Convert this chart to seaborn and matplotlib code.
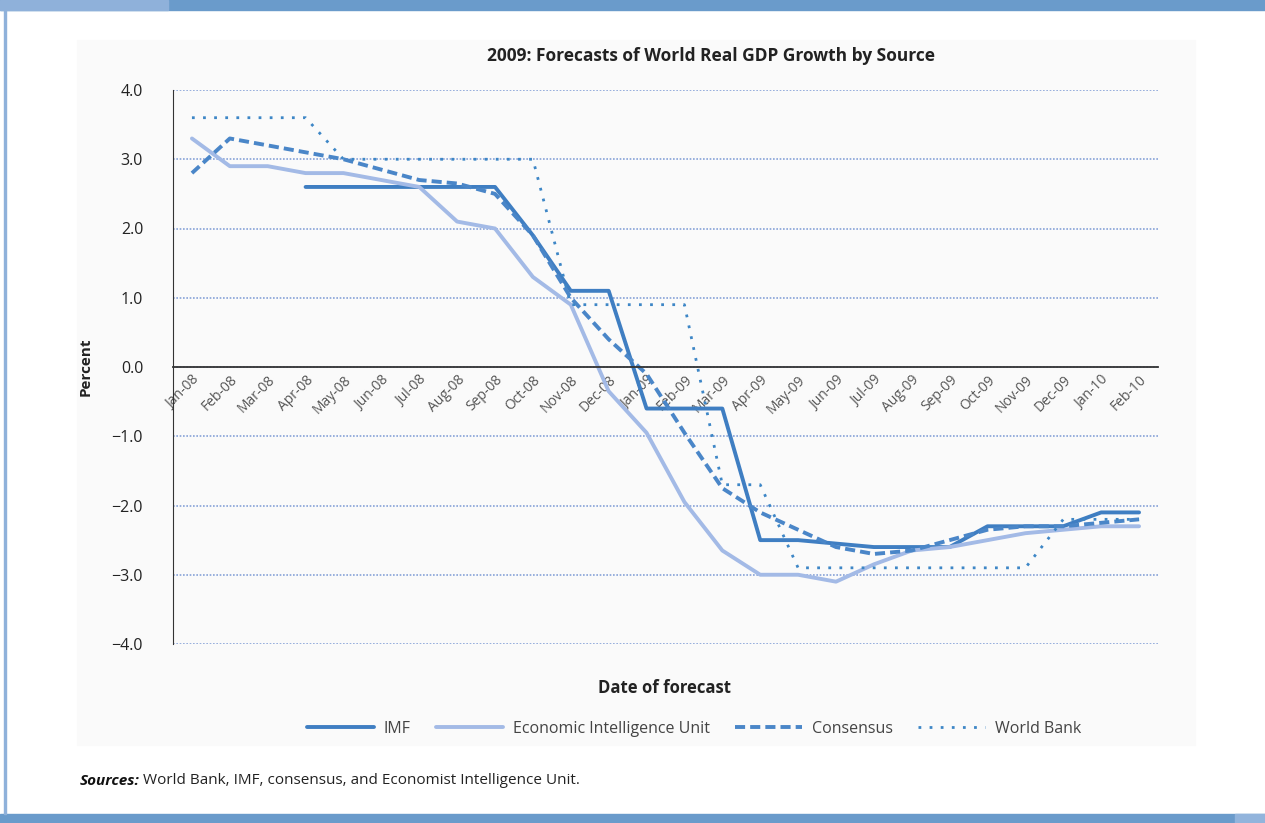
import numpy as np
import pandas as pd
import seaborn as sns
import matplotlib.pyplot as plt
from matplotlib.patches import Rectangle

months = ["Jan-08", "Feb-08", "Mar-08", "Apr-08", "May-08", "Jun-08", "Jul-08", "Aug-08",
          "Sep-08", "Oct-08", "Nov-08", "Dec-08", "Jan-09", "Feb-09", "Mar-09", "Apr-09",
          "May-09", "Jun-09", "Jul-09", "Aug-09", "Sep-09", "Oct-09", "Nov-09", "Dec-09",
          "Jan-10", "Feb-10"]

imf = [np.nan, np.nan, np.nan, 2.6, 2.6, 2.6, 2.6, 2.6, 2.6, 1.9, 1.1, 1.1, -0.6, -0.6,
       -0.6, -2.5, -2.5, -2.55, -2.6, -2.6, -2.6, -2.3, -2.3, -2.3, -2.1, -2.1]
eiu = [3.3, 2.9, 2.9, 2.8, 2.8, 2.7, 2.6, 2.1, 2.0, 1.3, 0.9, -0.35, -0.95, -1.95, -2.65,
       -3.0, -3.0, -3.1, -2.85, -2.65, -2.6, -2.5, -2.4, -2.35, -2.3, -2.3]
consensus = [2.8, 3.3, 3.2, 3.1, 3.0, 2.85, 2.7, 2.65, 2.5, 1.9, 1.0, 0.4, -0.1, -0.95,
             -1.75, -2.1, -2.35, -2.6, -2.7, -2.65, -2.5, -2.35, -2.3, -2.3, -2.25, -2.2]
world_bank = [3.6, 3.6, 3.6, 3.6, 3.0, 3.0, 3.0, 3.0, 3.0, 3.0, 0.9, 0.9, 0.9, 0.9, -1.7,
              -1.7, -2.9, -2.9, -2.9, -2.9, -2.9, -2.9, -2.9, -2.2, -2.2, -2.2]

series_names = ["IMF", "Economic Intelligence Unit", "Consensus", "World Bank"]

df = pd.DataFrame({"pos": np.arange(len(months)), "month": months,
                   "IMF": imf, "Economic Intelligence Unit": eiu,
                   "Consensus": consensus, "World Bank": world_bank})

sns.set_style("white")
plt.rcParams['font.family'] = ['Open Sans', 'DejaVu Sans']

fig = plt.figure(figsize=(12.65, 8.23), dpi=100)

# page decoration: header / footer bands, side rule, faint chart background
deco = [
    ((0, 1 - 10 / 823), 1, 10 / 823, "#6a9bcb"),
    ((0, 1 - 10 / 823), 168 / 1265, 10 / 823, "#8fb1da"),
    ((0, 0), 1, 9 / 823, "#6a9bcb"),
    ((1235 / 1265, 0), 30 / 1265, 9 / 823, "#92b4dc"),
    ((4 / 1265, 9 / 823), 1.5 / 1265, 804 / 823, "#8fb1da"),
    ((77 / 1265, 1 - 745 / 823), 1118 / 1265, 705 / 823, "#fafafa"),
]
for xy, w, h, c in deco:
    fig.patches.append(Rectangle(xy, w, h, transform=fig.transFigure, color=c, zorder=-5))

ax = fig.add_axes([173 / 1265, 1 - 644 / 823, 985 / 1265, 554 / 823])
ax.set_zorder(3)
ax.set_facecolor("none")

styles = {
    "IMF": dict(color="#3f7ec2", lw=2.8, dashes=None),
    "Economic Intelligence Unit": dict(color="#a3bae6", lw=2.8, dashes=None),
    "Consensus": dict(color="#4a86c8", lw=2.8, dashes=(2.6, 1.3)),
    "World Bank": dict(color="#3d86c6", lw=2.0, dashes=(1, 3)),
}

for name in series_names:
    st = styles[name]
    sns.lineplot(data=df, x="pos", y=name, ax=ax, color=st["color"],
                 linewidth=st["lw"], label=name, legend=False)
    ln = ax.lines[-1]
    if st["dashes"] is not None:
        ln.set_dashes(st["dashes"])

# axes formatting
ax.set_xlim(-0.5, len(months) - 0.5)
ax.set_ylim(-4, 4)
ax.set_yticks(np.arange(-4, 5, 1))
ax.set_yticklabels([f"{v:.1f}".replace("-", "\u2212") for v in np.arange(-4, 5, 1)],
                   fontsize=11.5, color="#222222")
ax.yaxis.grid(True, linestyle=(0, (1, 1)), color="#86a2d8", lw=1.2)
ax.xaxis.grid(False)
for s in ["top", "right"]:
    ax.spines[s].set_visible(False)
ax.spines["left"].set_color("#333333")
ax.spines["bottom"].set_position(("data", 0))
ax.spines["bottom"].set_color("#333333")
ax.spines["bottom"].set_linewidth(1.3)
ax.tick_params(axis="y", direction="inout", length=7, pad=18, color="#333333")

ax.set_xticks(np.arange(len(months) + 1) - 0.5)
ax.set_xticklabels([])
ax.set_xticks(np.arange(len(months)), minor=True)
ax.set_xticklabels(months, minor=True, rotation=45, ha="right", rotation_mode="anchor",
                   fontsize=10, color="#555555")
ax.tick_params(axis="x", which="major", direction="inout", length=8, color="#333333")
ax.tick_params(axis="x", which="minor", length=0, pad=4)

ax.set_xlabel("")
ax.set_ylabel("")
fig.text(86 / 1265, 1 - 367 / 823, "Percent", rotation=90, ha="center", va="center",
         fontsize=11, fontweight="bold", color="#222222")
fig.text(665 / 1265, 1 - 688 / 823, "Date of forecast", ha="center", va="center",
         fontsize=12, fontweight="bold", color="#222222")
fig.text(711 / 1265, 1 - 56 / 823, "2009: Forecasts of World Real GDP Growth by Source",
         ha="center", va="center", fontsize=12.5, fontweight="bold", color="#222222")

handles = ax.lines[:4]
fig.legend(handles, series_names, loc="center", bbox_to_anchor=(694 / 1265, 1 - 729 / 823),
           ncol=4, frameon=False, fontsize=11.5, handlelength=4.2, columnspacing=1.6,
           handletextpad=0.6, labelcolor="#444444")

fig.text(80 / 1265, 1 - 781 / 823, "Sources:", ha="left", va="center", fontsize=11,
         fontweight="bold", fontstyle="italic", color="#111111")
fig.text(143 / 1265, 1 - 781 / 823, "World Bank, IMF, consensus, and Economist Intelligence Unit.",
         ha="left", va="center", fontsize=11, color="#222222")

fig.savefig("out.png", dpi=100)
